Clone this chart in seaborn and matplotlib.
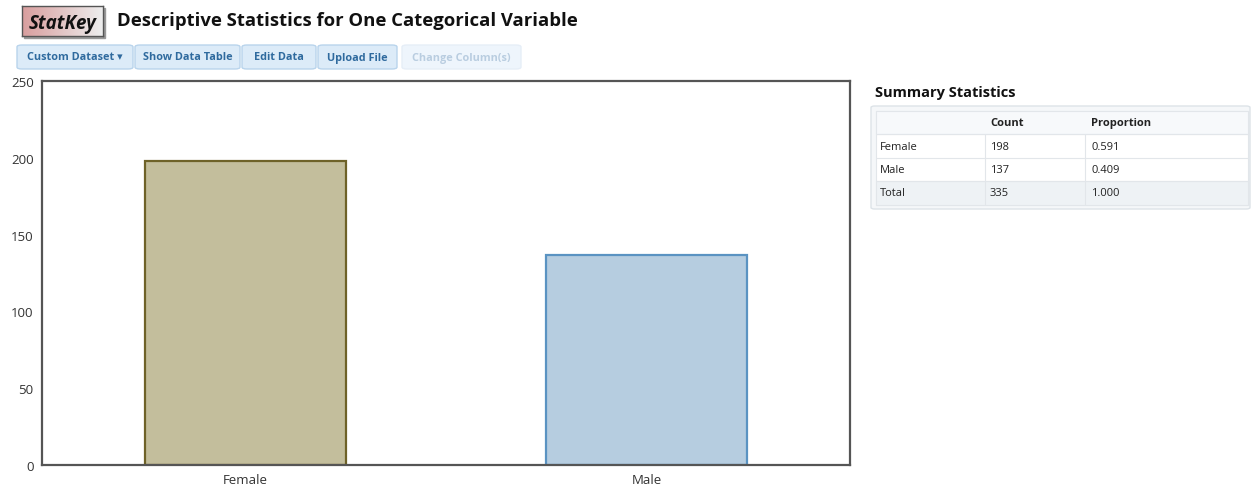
import numpy as np
import matplotlib
matplotlib.use("Agg")
import matplotlib.pyplot as plt
from matplotlib.patches import FancyBboxPatch, Rectangle
import pandas as pd
import seaborn as sns

categories = ["Female", "Male"]
counts = [198, 137]
proportions = [0.591, 0.409]
total_count = 335
total_prop = 1.000
y_ticks = [0, 50, 100, 150, 200, 250]
buttons = ["Custom Dataset \u25BE", "Show Data Table", "Edit Data", "Upload File", "Change Column(s)"]

sns.set_style("white")
plt.rcParams['font.family'] = ['Open Sans', 'DejaVu Sans']

W, H = 1252, 489
fig = plt.figure(figsize=(W / 100, H / 100), dpi=100)


def fx(x):
    return x / W


def fy(y):
    return 1 - y / H


# header
grad = np.linspace(0, 1, 100).reshape(1, -1)
c1 = np.array([0.85, 0.62, 0.62])
c2 = np.array([0.93, 0.93, 0.93])
img = c1[None, None, :] * (1 - grad[..., None]) + c2[None, None, :] * grad[..., None]
hax = fig.add_axes([fx(22), fy(37), fx(81), 30 / H])
hax.imshow(img, aspect="auto", extent=[0, 1, 0, 1])
hax.set_xticks([])
hax.set_yticks([])
for s in hax.spines.values():
    s.set_color("#555555")
    s.set_linewidth(1)
fig.add_artist(Rectangle((fx(24), fy(39)), fx(81), 30 / H, transform=fig.transFigure,
                         color="#999999", zorder=-1))
hax.text(0.5, 0.45, "StatKey", ha="center", va="center", fontsize=13.5,
         fontweight="bold", fontstyle="italic", color="#111111", transform=hax.transAxes)
fig.text(fx(117), fy(21), "Descriptive Statistics for One Categorical Variable",
         fontsize=13.3, fontweight="bold", color="#111111", va="center")

# buttons
bx = [(17, 133), (135, 240), (242, 316), (318, 397), (402, 521)]
for (x0, x1), label in zip(bx, buttons):
    faded = label.startswith("Change")
    fig.add_artist(FancyBboxPatch((fx(x0), fy(70)), fx(x1 - x0), 24 / H,
                                  boxstyle="round,pad=0,rounding_size=0.004",
                                  transform=fig.transFigure,
                                  facecolor="#eef5fc" if faded else "#dcebf8",
                                  edgecolor="#e6eef7" if faded else "#b9d4ec", linewidth=1))
    fig.text(fx((x0 + x1) / 2), fy(58), label, ha="center", va="center", fontsize=7.8,
             fontweight="bold", color="#b9cde0" if faded else "#2f6a9e")

# chart
df = pd.DataFrame({"cat": categories, "count": counts})
ax = fig.add_axes([fx(42), fy(466), fx(808), 384 / H])
sns.barplot(data=df, x="cat", y="count", hue="cat", palette=["#c3be9c", "#b6cde0"],
            saturation=1, width=0.5, ax=ax, legend=False)
for bar, ec in zip(ax.patches, ["#6e6228", "#5a93c2"]):
    bar.set_edgecolor(ec)
    bar.set_linewidth(1.6)
ax.set_xlim(-0.505, 1.505)
ax.set_ylim(0, 250)
ax.set_yticks(y_ticks)
ax.set_xlabel("")
ax.set_ylabel("")
ax.tick_params(length=0, labelsize=9.5, colors="#333333", pad=6)
for s in ax.spines.values():
    s.set_color("#555555")
    s.set_linewidth(1.6)

# summary table
fig.text(fx(875), fy(93), "Summary Statistics", fontsize=10.5, fontweight="bold",
         color="#111111", va="center")
fig.add_artist(FancyBboxPatch((fx(871), fy(210)), fx(379), 103 / H,
                              boxstyle="round,pad=0,rounding_size=0.003",
                              transform=fig.transFigure, facecolor="#f5f7f9",
                              edgecolor="#dde3e8", linewidth=1))
fig.add_artist(Rectangle((fx(876), fy(206)), fx(372), 94 / H, transform=fig.transFigure,
                         facecolor="white", edgecolor="#e2e6ea", linewidth=0.8))
fig.add_artist(Rectangle((fx(876), fy(206)), fx(372), 24 / H, transform=fig.transFigure,
                         facecolor="#eef2f5", edgecolor="#e2e6ea", linewidth=0.8))
fig.add_artist(Rectangle((fx(876), fy(135)), fx(372), 23 / H, transform=fig.transFigure,
                         facecolor="#f7f9fb", edgecolor="#e2e6ea", linewidth=0.8))
for yl in [135, 159, 182]:
    fig.add_artist(plt.Line2D([fx(876), fx(1248)], [fy(yl), fy(yl)],
                              transform=fig.transFigure, color="#e2e6ea", linewidth=0.8))
for xl in [985, 1085]:
    fig.add_artist(plt.Line2D([fx(xl), fx(xl)], [fy(135), fy(206)],
                              transform=fig.transFigure, color="#e2e6ea", linewidth=0.8))
fig.text(fx(990), fy(124), "Count", fontsize=8, fontweight="bold", color="#222222", va="center")
fig.text(fx(1091), fy(124), "Proportion", fontsize=8, fontweight="bold", color="#222222", va="center")
rows = list(zip(categories, counts, proportions)) + [("Total", total_count, total_prop)]
for i, (name, c, p) in enumerate(rows):
    yc = 147 + i * 23.5
    fig.text(fx(880), fy(yc), name, fontsize=8, color="#222222", va="center")
    fig.text(fx(990), fy(yc), str(c), fontsize=8, color="#222222", va="center")
    fig.text(fx(1091), fy(yc), f"{p:.3f}", fontsize=8, color="#222222", va="center")

fig.savefig("out.png", dpi=100)
